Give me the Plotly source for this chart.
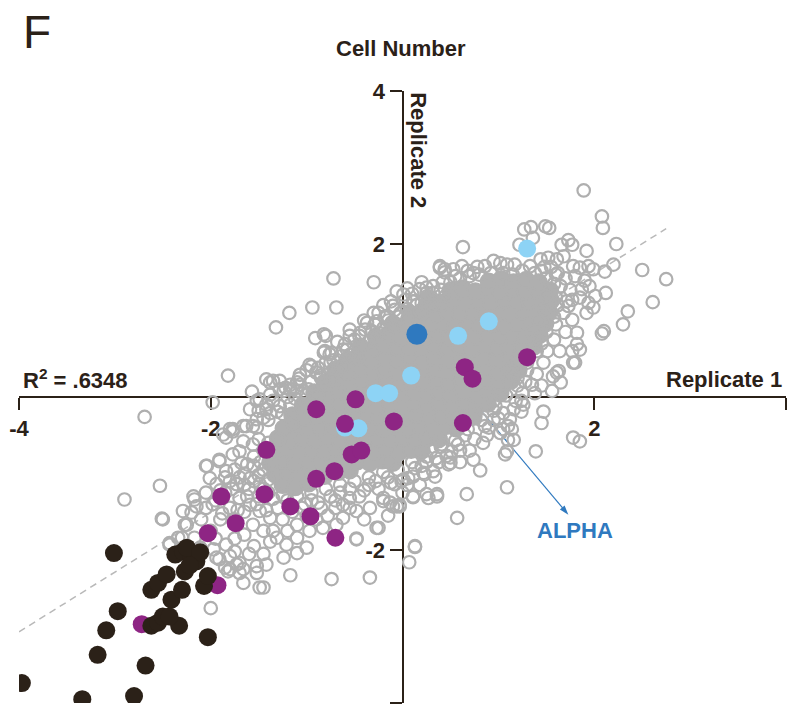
import plotly.graph_objects as go

# ---------------------------------------------------------------------------
# Data: log-ratio scores for cell number, replicate 1 (x) vs replicate 2 (y)
# ---------------------------------------------------------------------------

# Dense centre of the distribution
core_pts = [
    (-1.25, -1.15), (-1.12, -1.18), (-0.98, -1.13),
    (-1.33, -1.01), (-1.19, -0.98), (-1.07, -1.02), (-0.93, -0.99), (-0.81, -1.03), (-0.67, -0.98), (-0.55, -0.96),
    (-1.38, -0.86), (-1.24, -0.83), (-1.12, -0.87), (-0.99, -0.84), (-0.86, -0.86), (-0.72, -0.83), (-0.60, -0.87),
    (-0.47, -0.84), (-0.34, -0.86), (-0.21, -0.83), (-0.10, -0.86),
    (-1.34, -0.71), (-1.21, -0.68), (-1.07, -0.72), (-0.95, -0.69), (-0.81, -0.71), (-0.68, -0.68), (-0.56, -0.72),
    (-0.42, -0.69), (-0.29, -0.71), (-0.16, -0.68), (-0.03, -0.72), (0.09, -0.69), (0.20, -0.70),
    (-1.30, -0.54), (-1.17, -0.57), (-1.04, -0.53), (-0.91, -0.56), (-0.78, -0.54), (-0.65, -0.57), (-0.52, -0.53),
    (-0.39, -0.56), (-0.26, -0.54), (-0.13, -0.57), (0.00, -0.53), (0.13, -0.56), (0.26, -0.54), (0.38, -0.55),
    (-1.24, -0.41), (-1.11, -0.38), (-0.98, -0.42), (-0.85, -0.39), (-0.72, -0.41), (-0.59, -0.38), (-0.46, -0.42),
    (-0.33, -0.39), (-0.20, -0.41), (-0.07, -0.38), (0.06, -0.42), (0.19, -0.39), (0.32, -0.41), (0.45, -0.38), (0.56, -0.41),
    (-1.15, -0.24), (-1.02, -0.27), (-0.89, -0.23), (-0.76, -0.26), (-0.63, -0.24), (-0.50, -0.27), (-0.37, -0.23),
    (-0.24, -0.26), (-0.11, -0.24), (0.02, -0.27), (0.15, -0.23), (0.28, -0.26), (0.41, -0.24), (0.54, -0.27),
    (0.66, -0.23), (0.74, -0.26),
    (-1.04, -0.11), (-0.91, -0.08), (-0.78, -0.12), (-0.65, -0.09), (-0.52, -0.11), (-0.39, -0.08), (-0.26, -0.12),
    (-0.13, -0.09), (0.00, -0.11), (0.13, -0.08), (0.26, -0.12), (0.39, -0.09), (0.52, -0.11), (0.65, -0.08),
    (0.78, -0.12), (0.89, -0.09),
    (-0.92, 0.06), (-0.79, 0.03), (-0.66, 0.07), (-0.53, 0.04), (-0.40, 0.06), (-0.27, 0.03), (-0.14, 0.07),
    (-0.01, 0.04), (0.12, 0.06), (0.25, 0.03), (0.38, 0.07), (0.51, 0.04), (0.64, 0.06), (0.77, 0.03), (0.90, 0.07), (1.02, 0.05),
    (-0.81, 0.19), (-0.68, 0.22), (-0.55, 0.18), (-0.42, 0.21), (-0.29, 0.19), (-0.16, 0.22), (-0.03, 0.18),
    (0.10, 0.21), (0.23, 0.19), (0.36, 0.22), (0.49, 0.18), (0.62, 0.21), (0.75, 0.19), (0.88, 0.22), (1.01, 0.18), (1.13, 0.21),
    (-0.70, 0.36), (-0.57, 0.33), (-0.44, 0.37), (-0.31, 0.34), (-0.18, 0.36), (-0.05, 0.33), (0.08, 0.37),
    (0.21, 0.34), (0.34, 0.36), (0.47, 0.33), (0.60, 0.37), (0.73, 0.34), (0.86, 0.36), (0.99, 0.33), (1.11, 0.37), (1.21, 0.35),
    (-0.57, 0.49), (-0.44, 0.52), (-0.31, 0.48), (-0.18, 0.51), (-0.05, 0.49), (0.08, 0.52), (0.21, 0.48),
    (0.34, 0.51), (0.47, 0.49), (0.60, 0.52), (0.73, 0.48), (0.86, 0.51), (0.99, 0.49), (1.12, 0.52), (1.22, 0.48), (1.29, 0.51),
    (-0.44, 0.66), (-0.31, 0.63), (-0.18, 0.67), (-0.05, 0.64), (0.08, 0.66), (0.21, 0.63), (0.34, 0.67),
    (0.47, 0.64), (0.60, 0.66), (0.73, 0.63), (0.86, 0.67), (0.99, 0.64), (1.12, 0.66), (1.25, 0.63), (1.37, 0.66),
    (-0.28, 0.79), (-0.15, 0.82), (-0.02, 0.78), (0.11, 0.81), (0.24, 0.79), (0.37, 0.82), (0.50, 0.78),
    (0.63, 0.81), (0.76, 0.79), (0.89, 0.82), (1.02, 0.78), (1.15, 0.81), (1.28, 0.79), (1.43, 0.81),
    (-0.10, 0.96), (0.03, 0.93), (0.16, 0.97), (0.29, 0.94), (0.42, 0.96), (0.55, 0.93), (0.68, 0.97),
    (0.81, 0.94), (0.94, 0.96), (1.07, 0.93), (1.20, 0.97), (1.33, 0.94), (1.49, 0.96),
    (0.08, 1.09), (0.21, 1.12), (0.34, 1.08), (0.47, 1.11), (0.60, 1.09), (0.73, 1.12), (0.86, 1.08),
    (0.99, 1.11), (1.12, 1.09), (1.25, 1.12), (1.38, 1.08), (1.53, 1.11),
    (0.28, 1.26), (0.41, 1.23), (0.54, 1.27), (0.67, 1.24), (0.80, 1.26), (0.93, 1.23), (1.06, 1.27),
    (1.19, 1.24), (1.32, 1.26), (1.45, 1.23), (1.55, 1.26),
    (0.50, 1.39), (0.63, 1.42), (0.76, 1.38), (0.89, 1.41), (1.02, 1.39), (1.15, 1.42), (1.28, 1.38), (1.41, 1.41), (1.54, 1.39),
    (0.90, 1.51), (1.03, 1.54), (1.16, 1.50), (1.29, 1.53), (1.42, 1.50),
]

# Remaining screened genes around the centre
ring_pts = [
    # upper right
    (1.89, 2.70), (2.08, 2.36), (2.09, 2.21), (2.23, 2.00), (2.50, 1.66), (2.75, 1.54), (2.61, 1.24), (2.35, 1.12),
    (2.30, 0.95), (2.08, 0.83), (2.10, 0.86), (0.63, 1.96), (1.27, 2.19), (1.34, 2.22), (1.49, 2.23), (1.53, 2.21),
    (1.22, 1.99), (1.36, 2.08), (1.66, 1.99), (1.73, 2.05), (1.77, 1.99), (1.92, 1.91), (2.20, 1.73), (2.11, 1.64),
    (1.99, 1.67), (1.94, 1.71), (1.85, 1.69), (1.78, 1.71), (2.12, 1.36), (2.01, 1.32), (1.94, 1.23), (1.99, 1.17),
    (1.87, 1.41), (1.71, 1.25), (1.77, 1.27), (1.73, 1.19), (1.77, 1.01), (1.82, 0.84), (1.82, 0.69), (1.77, 0.60),
    (1.80, 0.45), (1.63, 0.34), (1.64, 0.60), (1.51, 0.60), (1.47, 0.45), (1.57, 0.27), (0.39, 1.71), (0.44, 1.67),
    (0.53, 1.67), (0.62, 1.71), (0.74, 1.62), (0.86, 1.71), (0.95, 1.78), (1.02, 1.75), (1.09, 1.73), (1.17, 1.73),
    (1.33, 1.71), (1.44, 1.80), (1.52, 1.82), (1.61, 1.80), (1.68, 1.84), (0.25, 1.43), (0.32, 1.36),
    (1.62, 1.62), (1.70, 1.55), (1.80, 1.58), (1.90, 1.52), (1.65, 1.45), (1.75, 1.40), (1.95, 1.45), (1.60, 1.30),
    (1.68, 1.10), (1.60, 0.95), (1.70, 0.85), (1.58, 0.75), (1.92, 1.10), (1.85, 1.30),
    (1.45, 1.65), (1.55, 1.70), (1.60, 1.60), (1.50, 1.55), (1.62, 1.20), (1.58, 1.05), (1.50, 0.85), (1.45, 0.70), (1.40, 0.60),
    (0.55, 1.58), (0.68, 1.65), (0.78, 1.70), (0.92, 1.62), (1.05, 1.62), (1.15, 1.60), (1.25, 1.65), (1.38, 1.62), (1.48, 1.70),
    (1.35, 0.85), (1.42, 1.00), (1.48, 1.15), (1.50, 1.32), (1.58, 1.48), (1.38, 0.72), (1.25, 0.55), (1.15, 0.30),
    # lower right
    (1.61, 0.32), (1.65, 0.19), (1.78, 0.45), (1.85, 0.62), (1.35, 0.16), (1.47, -0.19), (1.45, -0.34), (1.78, -0.53),
    (1.85, -0.58), (1.12, -0.29), (1.14, -0.42), (1.16, -0.56), (1.26, -0.10), (1.02, -0.47), (1.39, -0.71),
    (1.09, -1.18), (0.67, -1.27), (0.57, -1.58), (0.81, -0.96), (0.74, -0.82), (1.09, -0.71), (1.10, -0.56),
    (1.05, -0.42), (1.16, -0.16), (1.24, -0.19), (0.36, -1.30), (0.50, -0.86), (0.46, -0.77), (0.34, -1.04),
    (0.84, -0.60), (0.13, -1.96), (0.07, -2.16), (0.27, -1.32), (0.11, -1.31), (-0.03, -1.41), (0.48, -0.88),
    (0.50, -0.79), (1.07, -0.75), (1.10, -0.38), (0.86, -0.38), (0.76, -0.23), (1.24, -0.05), (1.38, 0.05),
    (1.56, 0.08), (0.97, -0.12), (1.05, -0.21), (0.58, -0.62), (0.51, -0.71), (0.41, -0.62), (-0.01, -1.10),
    (-0.08, -1.14), (0.06, -1.06), (0.23, -1.01), (0.13, -0.93),
    (1.20, 0.25), (1.30, 0.35), (1.25, 0.05), (1.40, 0.30), (1.15, 0.40), (1.45, 0.15), (0.95, -0.30), (0.88, -0.50),
    (0.65, -0.50), (0.70, -0.70), (0.60, -0.85), (0.38, -0.85), (0.25, -0.85), (0.30, -0.70), (0.95, -0.05), (1.02, 0.02),
    (-1.25, -1.28), (-1.10, -1.30), (-0.95, -1.25), (-0.80, -1.20), (-0.65, -1.15), (-0.50, -1.10), (-0.35, -1.05),
    (-0.20, -0.98), (-0.05, -0.95), (0.10, -0.85), (0.25, -0.78), (0.40, -0.65), (0.55, -0.57), (0.68, -0.42),
    (0.82, -0.30), (0.95, -0.18), (1.08, 0.02), (1.20, 0.15), (1.30, 0.45),
    (-1.02, -1.40), (-0.88, -1.38), (-0.70, -1.35), (-0.55, -1.32), (-0.40, -1.22), (-0.28, -1.10), (-0.12, -1.12),
    (0.05, -1.15), (0.20, -0.90), (0.35, -0.80), (0.60, -0.70), (0.75, -0.55), (0.90, -0.40), (1.00, -0.28),
    (1.18, -0.05), (1.28, 0.20),
    # upper left
    (-0.72, 1.55), (-0.30, 1.50), (-1.18, 1.10), (-1.32, 0.91), (-0.94, 1.17), (-0.69, 1.17), (-1.82, 0.28),
    (-0.91, 0.77), (-0.82, 0.82), (-0.80, 0.80), (0.39, 1.69), (0.44, 1.63), (-0.06, 1.38), (0.01, 1.34),
    (0.18, 1.41), (0.25, 1.36), (-0.30, 1.10), (-0.10, 1.19), (-0.81, 0.60), (-0.74, 0.58), (-0.88, 0.38),
    (-0.90, 0.32), (-1.42, 0.23), (-1.28, 0.21), (-1.10, 0.19), (-0.55, 0.80), (-0.44, 0.84), (-0.37, 0.97),
    (-0.27, 0.99), (-0.16, 1.06), (0.11, 1.25), (0.20, 1.23), (-0.62, 0.62), (-0.65, 0.53), (0.32, 1.45),
    (-0.76, 0.56), (-0.60, 0.69), (-0.50, 0.75), (-0.39, 0.88), (-0.29, 0.95), (-0.18, 1.04), (-0.08, 1.14),
    (0.03, 1.27), (-0.97, 0.42), (-1.07, 0.29), (-1.17, 0.16), (-1.28, 0.10), (-1.38, 0.03), (-1.49, -0.03), (-1.59, -0.16),
    (-1.50, -0.55), (-1.40, -0.60), (-1.20, 0.00), (-1.05, 0.05), (-0.95, 0.20), (-0.85, 0.25), (-0.75, 0.45),
    (-0.65, 0.40), (-0.55, 0.55), (-0.45, 0.65), (-1.00, 0.35), (-0.80, 0.45),
    (-0.20, 0.90), (-0.05, 1.05), (0.05, 1.15), (0.15, 1.20), (0.30, 1.30), (0.40, 1.40), (0.50, 1.50),
    (0.60, 1.55), (0.70, 1.58), (0.80, 1.60), (-0.20, 1.20), (0.10, 1.35),
    (-1.40, -0.30), (-1.25, -0.22), (-1.12, -0.02), (-0.98, 0.10), (-0.85, 0.28), (-0.72, 0.48), (-0.58, 0.62),
    (-0.45, 0.80), (-0.32, 0.86), (-0.15, 1.00), (-0.02, 1.10), (0.12, 1.25), (0.26, 1.32), (0.42, 1.50),
    (-1.50, -0.18), (-1.35, -0.05), (-1.22, 0.12), (-1.08, 0.24), (-0.95, 0.40), (-0.82, 0.58), (-0.68, 0.72),
    (-0.55, 0.88), (-0.40, 1.00), (-0.25, 1.10), (-0.12, 1.25), (0.05, 1.42), (0.20, 1.50),
    (-1.28, -0.55), (-1.15, -0.35), (-1.02, -0.15), (-0.88, 0.02), (-0.75, 0.22), (-0.62, 0.40), (-0.48, 0.55),
    (-0.35, 0.72), (-0.22, 0.83), (-0.08, 0.92), (0.05, 1.02), (0.18, 1.12), (0.32, 1.20), (0.45, 1.32),
    # left and lower left
    (-2.69, -0.26), (-2.53, -1.16), (-2.90, -1.34), (-2.51, -1.59), (-2.05, -0.90), (-1.57, 0.07), (-1.98, -0.07),
    (-1.52, -0.05), (-1.42, -0.16), (-1.28, -0.12), (-1.77, -0.45), (-1.66, -0.38), (-1.56, -0.38), (-1.84, -0.53),
    (-1.35, 0.21), (-1.17, 0.10), (-1.07, 0.16),
    (-2.17, -1.34), (-2.29, -1.49), (-2.20, -1.51), (-2.25, -1.67), (-2.34, -1.84), (-2.43, -1.91), (-2.11, -1.97),
    (-1.94, -2.10), (-1.85, -2.23), (-1.82, -2.28), (-1.66, -2.43), (-1.45, -2.49), (-1.17, -2.33), (-0.74, -2.38),
    (-0.34, -2.36), (-0.48, -1.85), (-0.25, -1.71), (-0.13, -1.38), (-0.06, -1.43), (-0.20, -1.36), (-1.00, -1.97),
    (-1.10, -2.04), (-1.24, -2.10), (-1.42, -2.19), (-1.52, -2.21), (-1.66, -2.25), (-1.73, -2.19),
    (-1.91, -0.84), (-1.77, -0.75), (-1.68, -0.86), (-1.84, -0.97), (-2.01, -1.06), (-1.94, -1.14), (-1.87, -0.49),
    (-1.77, -0.42), (-1.63, -0.38), (-1.52, -0.40), (-1.66, -0.58), (-1.56, -0.62), (-1.70, -0.71), (-1.45, -0.27),
    (-1.31, -0.19), (-1.17, -0.10), (-1.42, -0.10), (-1.10, 0.08), (-1.00, 0.03), (-1.24, 0.08),
    (-1.59, -1.06), (-1.49, -1.14), (-1.73, -1.14), (-1.70, -1.32), (-1.59, -1.41), (-1.49, -1.49), (-1.38, -1.58),
    (-1.56, -1.67), (-1.45, -1.75), (-1.31, -1.84), (-1.21, -1.93), (-1.38, -1.89), (-1.10, -1.84), (-0.97, -1.75),
    (-0.83, -1.71), (-0.69, -1.67), (-0.62, -1.58), (-0.48, -1.49), (-0.34, -1.45), (-0.20, -1.32), (-1.10, -1.67),
    (-0.90, -1.60), (-0.62, -1.41),
    (-0.27, -1.71), (-0.48, -1.86), (0.13, -1.95), (-0.10, -1.43), (-0.03, -1.43), (0.11, -1.30), (0.25, -1.27),
    (0.36, -1.27), (0.01, -1.08), (0.11, -1.04), (0.22, -0.99), (0.32, -0.97),
    (-2.15, -1.43), (-2.18, -1.30), (-2.04, -0.90), (-1.91, -0.82), (-1.80, -0.42), (-1.52, -0.29), (-1.38, -0.21),
    (-1.14, 0.10), (-1.38, 0.19),
    (-2.00, -2.76), (-1.75, -2.02), (-1.70, -2.17), (-1.80, -2.08), (-1.49, -2.49), (-1.52, -2.30), (-1.70, -2.30),
    (-2.50, -1.60), (-2.27, -1.67), (-2.30, -1.84), (-2.43, -1.93), (-2.17, -1.84), (-2.11, -1.98), (-1.97, -1.99),
    (-1.84, -1.93), (-1.91, -2.12), (-1.80, -2.25),
    (-2.05, -1.25), (-1.95, -1.35), (-1.85, -1.25), (-1.80, -1.45), (-1.90, -1.60), (-2.00, -1.75), (-1.75, -1.60),
    (-1.65, -1.50), (-1.65, -1.80), (-1.55, -1.95), (-1.45, -2.05), (-1.35, -1.75), (-1.30, -1.45), (-1.25, -1.60),
    (-1.20, -1.75), (-1.75, -1.85), (-1.60, -2.05), (-1.85, -1.05), (-1.75, -0.95), (-1.65, -1.00), (-1.55, -0.90),
    (-1.45, -0.95), (-1.40, -1.25), (-1.50, -1.30), (-1.60, -1.20), (-2.10, -1.60), (-2.05, -1.45), (-1.95, -1.85),
    (-1.20, -1.35), (-1.05, -1.45), (-0.95, -1.35), (-0.85, -1.45), (-0.75, -1.30), (-0.65, -1.25), (-0.55, -1.20),
    (-0.45, -1.30), (-0.35, -1.15), (-0.25, -1.20), (-0.15, -1.05), (-1.00, -1.55), (-0.78, -1.55), (-0.55, -1.45),
    (-0.40, -1.60), (-0.15, -1.55), (0.00, -1.25), (0.18, -1.15), (-1.15, -1.50), (-0.70, -1.45),
    (-1.45, -0.70), (-1.55, -0.78), (-1.48, -0.85), (-1.62, -0.88), (-1.50, -1.02), (-1.40, -1.08), (-1.45, -1.20),
    (-1.35, -1.33), (-1.55, -1.10), (-1.65, -1.15), (-1.78, -1.20), (-1.70, -1.05), (-1.80, -1.10), (-1.62, -1.30),
    (-1.52, -1.40), (-1.42, -1.48), (-1.90, -1.22), (-1.98, -1.40), (-1.88, -1.52), (-1.72, -1.48),
]

# Highlighted gene groups
purple_x = [1.30, 0.65, 0.73, -0.49, -0.90, -0.09, 0.63, -0.60, -1.42, -0.53, -0.43,
            -0.71, -0.90, -1.89, -1.44, -1.17, -0.96, -1.74, -2.03, -0.70, -1.93, -2.72]
purple_y = [0.52, 0.39, 0.24, -0.03, -0.16, -0.32, -0.34, -0.35, -0.69, -0.75, -0.70,
            -0.97, -1.07, -1.30, -1.27, -1.43, -1.56, -1.65, -1.78, -1.84, -2.46, -2.97]

light_x = [1.30, 0.58, 0.90, 0.09, -0.28, -0.14, -0.60, -0.46]
light_y = [1.94, 0.80, 0.99, 0.28, 0.05, 0.05, -0.40, -0.41]

black_x = [-3.01, -2.97, -3.09, -3.18, -3.97, -3.34, -2.80, -2.68, -2.03, -2.33, -2.62, -2.55,
           -2.50, -2.43, -2.41, -2.30, -2.62, -2.55, -2.46, -2.07, -2.03, -2.27, -2.37, -2.29,
           -2.20, -2.15, -2.25, -2.11, -2.22]
black_y = [-2.04, -2.80, -3.05, -3.37, -3.74, -3.95, -3.91, -3.51, -3.14, -2.99, -2.99, -2.95,
           -2.87, -2.87, -2.65, -2.52, -2.52, -2.43, -2.32, -2.47, -2.34, -2.28, -2.06, -2.02,
           -2.10, -2.15, -1.97, -2.03, -2.20]

# ALPHA
alpha_x = [0.15]
alpha_y = [0.82]

# Linear fit between replicates
fit_x = [-4.0, 2.75]
fit_y = [-3.07, 2.20]

tick_vals = [-4, -2, 2, 4]
tick_text = ["-4", "-2", "2", "4"]

# ---------------------------------------------------------------------------
INK = "#2b2118"
GRAY = "#afafaf"
PURPLE = "#8e2584"
LIGHT_BLUE = "#8dd3f5"
DARK_BLUE = "#2f79bf"
FONT = "Liberation Sans, Arial, Helvetica, sans-serif"

ALPHA_TIP = (1.73, -1.54)    # where the pointer ends, just above the label
ALPHA_LABEL = (1.80, -1.74)

fig = go.Figure()

fig.add_trace(go.Scatter(
    x=fit_x, y=fit_y, mode="lines",
    line=dict(color="#b9b9b9", width=1.5, dash="7px,5px"),
    hoverinfo="skip",
))

# pointer from ALPHA to its label (sits underneath the point cloud)
fig.add_trace(go.Scatter(
    x=[alpha_x[0], ALPHA_TIP[0]], y=[alpha_y[0], ALPHA_TIP[1]],
    mode="lines+markers",
    line=dict(color=DARK_BLUE, width=1.2),
    marker=dict(symbol=["circle", "arrow"], size=[0, 10], angleref="previous",
                color=DARK_BLUE, opacity=[0, 1], line=dict(width=0)),
    hoverinfo="skip",
))

# grey cloud: the packed centre is drawn as solid discs, everything else as rings
gray_x = [p[0] for p in core_pts] + [p[0] for p in ring_pts]
gray_y = [p[1] for p in core_pts] + [p[1] for p in ring_pts]
gray_sym = ["circle"] * len(core_pts) + ["circle-open"] * len(ring_pts)
gray_size = [16] * len(core_pts) + [12.5] * len(ring_pts)
fig.add_trace(go.Scatter(
    x=gray_x, y=gray_y, mode="markers",
    marker=dict(symbol=gray_sym, size=gray_size, color=GRAY, opacity=1,
                line=dict(color=GRAY, width=2.2)),
))

fig.add_trace(go.Scatter(x=light_x, y=light_y, mode="markers",
                         marker=dict(size=18, color=LIGHT_BLUE, opacity=1, line=dict(width=0))))
fig.add_trace(go.Scatter(x=purple_x, y=purple_y, mode="markers",
                         marker=dict(size=18, color=PURPLE, opacity=1, line=dict(width=0))))
fig.add_trace(go.Scatter(x=alpha_x, y=alpha_y, mode="markers",
                         marker=dict(size=21, color=DARK_BLUE, opacity=1, line=dict(width=0))))
fig.add_trace(go.Scatter(x=black_x, y=black_y, mode="markers",
                         marker=dict(size=18, color=INK, opacity=1, line=dict(width=0))))

axis_common = dict(
    range=[-4, 4], anchor="free", position=0.5,
    tickvals=tick_vals, ticktext=tick_text,
    ticks="outside", ticklen=12, tickwidth=2, tickcolor=INK,
    showline=True, linewidth=2, linecolor=INK,
    showgrid=False, zeroline=False, automargin=False,
    tickfont=dict(family=FONT, size=22, color=INK, weight="bold"),
    layer="below traces", fixedrange=True,
)

fig.update_layout(
    width=791, height=713,
    margin=dict(l=19, r=5, t=91, b=10),
    paper_bgcolor="white", plot_bgcolor="white",
    showlegend=False,
    xaxis=dict(axis_common),
    yaxis=dict(axis_common, side="left"),
)

bold = dict(family=FONT, size=22, color=INK, weight="bold")
fig.add_annotation(text="F", xref="paper", yref="paper", x=0.003, y=1.096,
                   xanchor="left", yanchor="middle", showarrow=False,
                   font=dict(family=FONT, size=46, color=INK))
fig.add_annotation(text="Cell Number", xref="paper", yref="paper", x=0.498, y=1.069,
                   xanchor="center", yanchor="middle", showarrow=False, font=bold)
fig.add_annotation(text="Replicate 1", xref="paper", yref="paper", x=0.997, y=0.529,
                   xanchor="right", yanchor="middle", showarrow=False, font=bold)
fig.add_annotation(text="R<sup>2</sup> = .6348", xref="paper", yref="paper", x=0.003, y=0.530,
                   xanchor="left", yanchor="middle", showarrow=False, font=bold)
fig.add_annotation(text="Replicate 2", xref="paper", yref="paper", x=0.521, y=0.904,
                   xanchor="center", yanchor="middle", textangle=90, showarrow=False, font=bold)
fig.add_annotation(text="ALPHA", x=ALPHA_LABEL[0], y=ALPHA_LABEL[1],
                   xanchor="center", yanchor="middle", showarrow=False,
                   font=dict(family=FONT, size=22, color=DARK_BLUE, weight="bold"))

fig.write_html("out.html")
